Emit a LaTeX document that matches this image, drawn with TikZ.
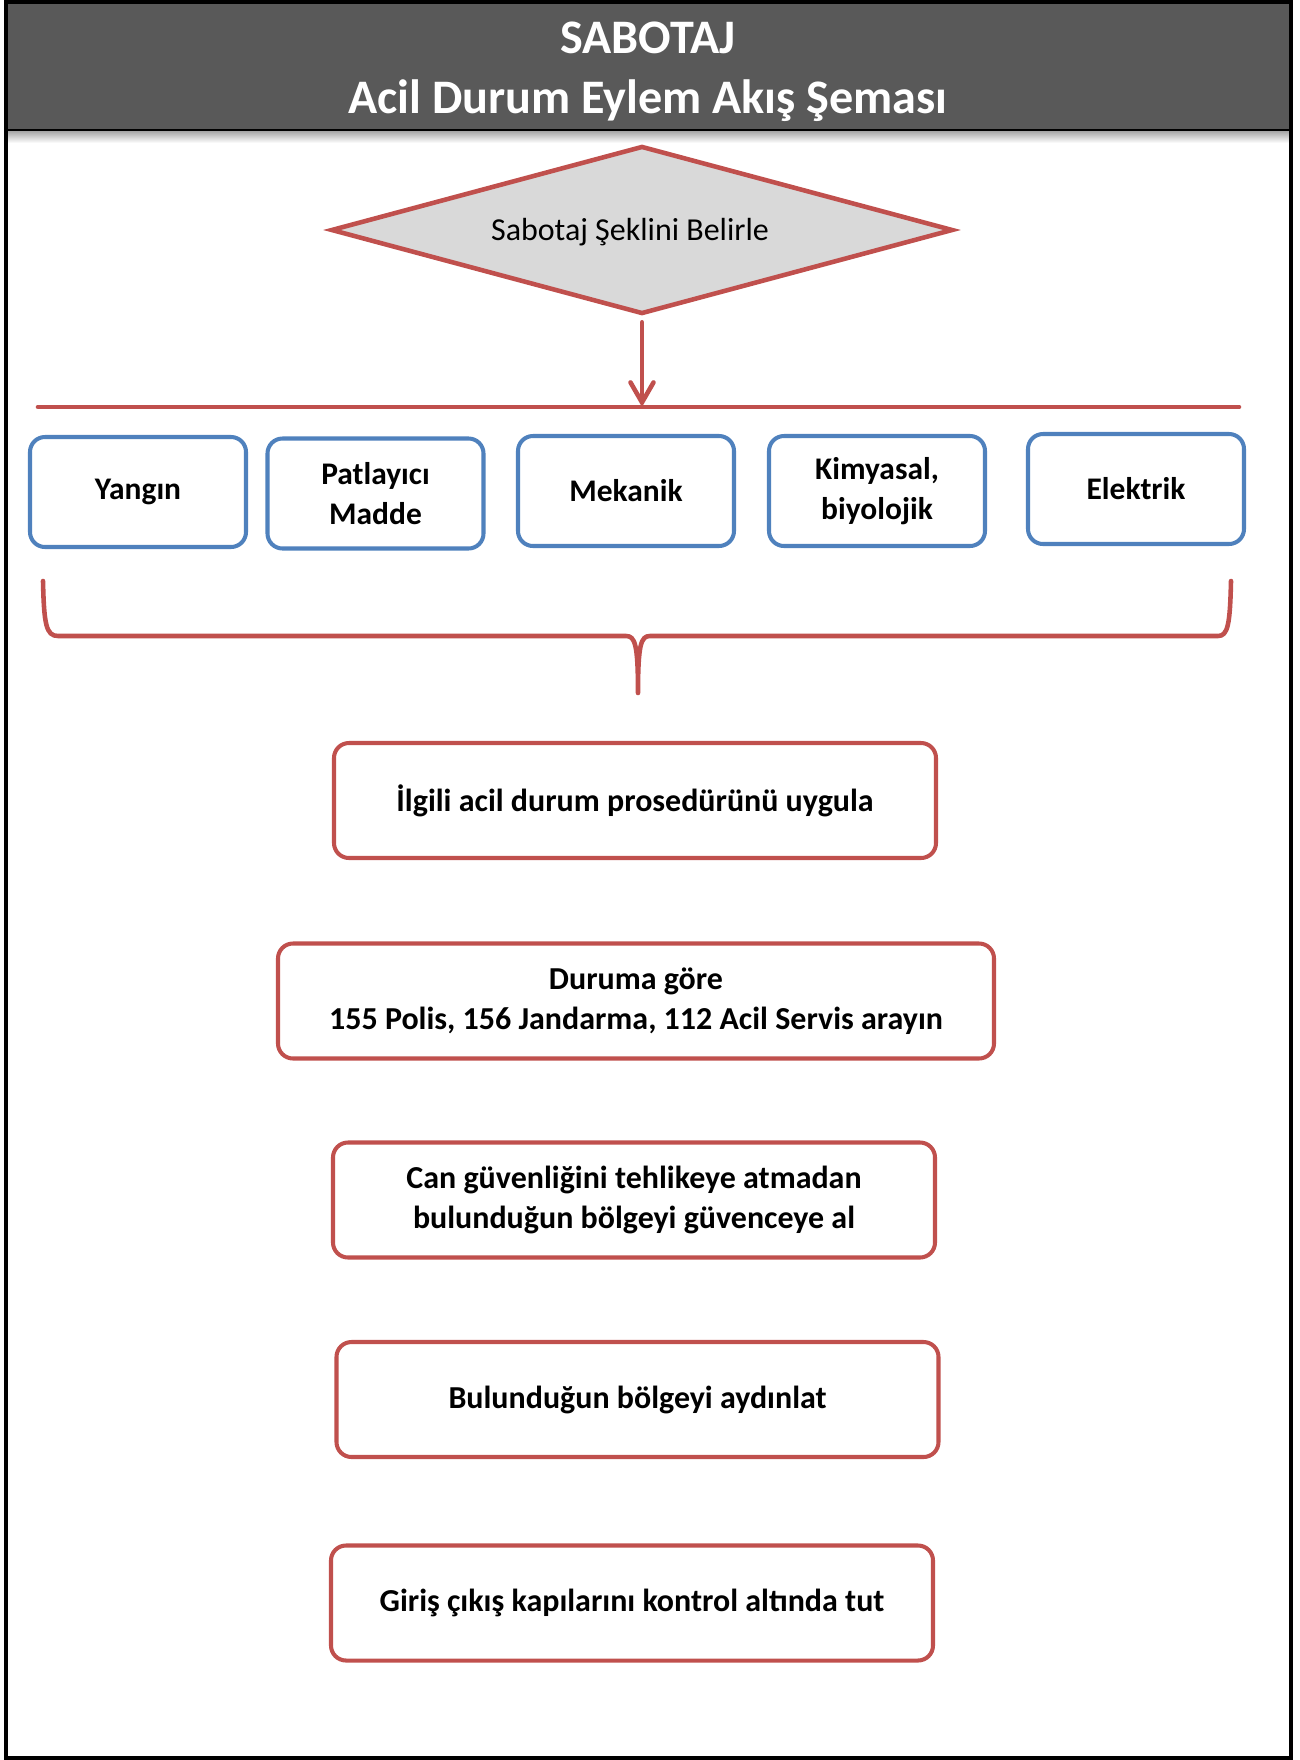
\documentclass[tikz,border=0pt]{standalone}
\usepackage{fontspec}
\setmainfont{Carlito}
\usetikzlibrary{arrows.meta,positioning,calc,shapes.geometric}
\definecolor{sabred}{HTML}{C0504D}
\definecolor{sabblue}{HTML}{4F81BD}
\definecolor{sabgray}{HTML}{595959}
\definecolor{sabfill}{HTML}{D9D9D9}

\begin{document}
\begin{tikzpicture}[x=0.2mm,y=-0.2mm,
    kind/.style={draw=sabblue,line width=2.3pt,rounded corners=3mm,fill=white,
      minimum width=43.2mm,minimum height=22mm,align=center,
      font=\fontsize{17.9}{22.8}\selectfont\bfseries},
    stepbox/.style={draw=sabred,line width=2.3pt,rounded corners=3mm,fill=white,
      minimum width=120.4mm,minimum height=23mm,align=center,
      font=\fontsize{18.2}{23}\selectfont\bfseries},
    redline/.style={draw=sabred,line width=2.6pt,line cap=round}]
    \useasboundingbox (0,0) rectangle (1299,1760);
    % header
    \fill[sabgray] (6,2) rectangle (1291,130);
    \shade[top color=black!35,bottom color=white] (8,131) rectangle (1289,143);
    \draw[line width=0.9pt] (6,130) -- (1291,130);
    \node[font=\fontsize{27.4}{34}\selectfont\bfseries,text=white,align=center] (title) at (648,72)
      {SABOTAJ\\Acil Durum Eylem Akış Şeması};
    % decision
    \node[diamond,draw=sabred,line width=2.6pt,fill=sabfill,inner sep=0pt,aspect=3.8,
      minimum width=124.4mm,minimum height=33.6mm] (decide) at (642,230) {};
    \node[font=\fontsize{18.2}{22}\selectfont] (decideText) at (630,232) {Sabotaj Şeklini Belirle};
    % bar and arrow
    \coordinate (barL) at (38,407);
    \coordinate (barR) at (1239,407);
    \draw[redline] (barL) -- (barR);
    \draw[redline,shorten <=1.2mm,-{Straight Barb[length=4mm,width=4.6mm,line cap=round]}]
      (decide.south) -- (decide.south |- barL);
    % sabotage kinds
    \foreach \n/\x/\y/\lab in {1/138/492/{Yangın},2/375.5/493.5/{Patlayıcı\\Madde},
      3/626/491/{Mekanik},4/877/491/{Kimyasal,\\biyolojik},5/1136/489/{Elektrik}}{
      \node[kind] (kind\n) at (\x,\y) {\lab};
    }
    % brace
    \coordinate (braceL) at (43,581);
    \coordinate (braceR) at (1231,581);
    \coordinate (braceTip) at (638,693);
    \draw[redline,line join=round] (braceL) .. controls (44,624) and (46,636) .. (58,636)
      -- (626,636) .. controls (635,636) and (638,644) .. (braceTip)
      .. controls (638,644) and (641,636) .. (650,636)
      -- (1218,636) .. controls (1228,636) and (1230,624) .. (braceR);
    % steps
    \node[stepbox] (step1) at (635,800.5) {İlgili acil durum prosedürünü uygula};
    \node[stepbox,minimum width=143.2mm] (step2) at (636,1001)
      {Duruma göre\\155 Polis, 156 Jandarma, 112 Acil Servis arayın};
    \node[stepbox] (step3) at (634,1200)
      {Can güvenliğini tehlikeye atmadan\\bulunduğun bölgeyi güvenceye al};
    \node[stepbox] (step4) at (637.5,1399.5) {Bulunduğun bölgeyi aydınlat};
    \node[stepbox] (step5) at (632,1603) {Giriş çıkış kapılarını kontrol altında tut};
    % frame
    \draw[line width=2.3pt] (6,2) rectangle (1291,1758);
\end{tikzpicture}
\end{document}
